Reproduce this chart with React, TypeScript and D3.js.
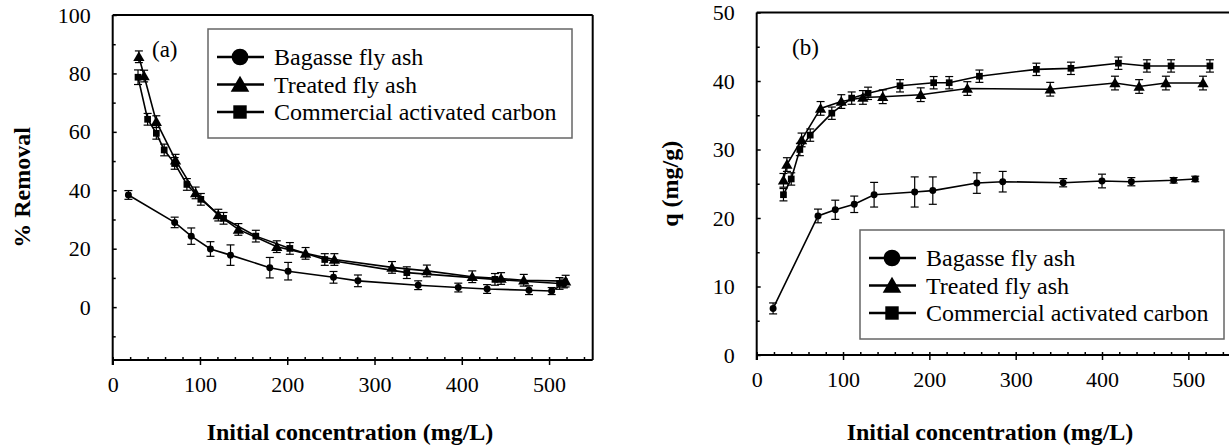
import React, { useEffect, useRef } from "react";
import * as d3 from "d3";

const W = 1229;
const H = 447;

// (a) % Removal vs initial concentration
const bagasseAx = [18, 71, 90, 112, 135, 180, 201, 253, 281, 350, 396, 429, 477, 503, 517];
const bagasseAy = [38.4, 29, 24.3, 19.9, 17.8, 13.5, 12.3, 10.2, 9.0, 7.5, 6.7, 6.2, 5.8, 5.5, 8.1];
const bagasseAe = [1.5, 1.8, 2.8, 2.5, 3.5, 3.5, 3, 2, 2, 1.5, 1.5, 1.5, 1.5, 1.2, 1.5];

const treatedAx = [30, 36, 50, 72, 95, 121, 144, 188, 221, 254, 320, 360, 412, 445, 471, 519];
const treatedAy = [85.7, 79.1, 63.5, 50.3, 39.1, 31.5, 26.6, 20.7, 18.4, 16.3, 13.6, 12.4, 10.4, 9.8, 9.2, 8.9];
const treatedAe = [2, 2, 2, 2, 2, 2, 2, 2, 2, 2, 2, 2, 2, 2, 2, 2];

const carbonAx = [29, 40, 50, 59, 71, 85, 101, 127, 164, 203, 243, 337, 438, 512];
const carbonAy = [78.7, 64.3, 59.5, 53.8, 49.2, 42, 36.9, 30.4, 24.3, 20.1, 16.3, 11.8, 9.5, 8.1];
const carbonAe = [2.5, 2, 2, 2, 2, 2, 2, 2, 2, 2, 2, 2, 2, 2];

// (b) q (mg/g) vs initial concentration
const bagasseBx = [19, 71, 91, 113, 136, 183, 204, 255, 285, 355, 400, 434, 483, 508];
const bagasseBy = [6.8, 20.3, 21.2, 22.0, 23.4, 23.8, 24.0, 25.1, 25.3, 25.15, 25.4, 25.3, 25.5, 25.7];
const bagasseBe = [0.8, 1.0, 1.4, 1.2, 1.8, 2.2, 2.0, 1.5, 1.5, 0.6, 1.0, 0.6, 0.4, 0.4];

const treatedBx = [31, 35, 52, 74, 98, 123, 146, 190, 244, 340, 415, 443, 474, 517];
const treatedBy = [25.5, 27.8, 31.4, 36.0, 37.0, 37.6, 37.7, 38.0, 38.9, 38.8, 39.7, 39.2, 39.7, 39.7];
const treatedBe = [1, 1, 1, 1, 1, 1, 1, 1, 1, 1, 1, 1, 1, 1];

const carbonBx = [31, 40, 50, 62, 87, 110, 129, 166, 205, 223, 258, 324, 364, 419, 452, 480, 525];
const carbonBy = [23.4, 25.7, 30.0, 32.1, 35.3, 37.5, 38.2, 39.3, 39.75, 39.75, 40.7, 41.7, 41.85, 42.6, 42.2, 42.2, 42.2];
const carbonBe = [0.9, 0.9, 0.9, 0.9, 0.9, 0.9, 0.9, 0.9, 0.9, 0.9, 0.9, 0.9, 0.9, 0.9, 0.9, 0.9, 0.9];

const seriesNames = ["Bagasse fly ash", "Treated fly ash", "Commercial activated carbon"];
const xTicks = [0, 100, 200, 300, 400, 500];

const FONT = "'Liberation Serif', 'Times New Roman', serif";

const symbols = [d3.symbolCircle, d3.symbolTriangle, d3.symbolSquare];
const plotSizes = [38, 55, 45];
const legendSizes = [220, 150, 180];

const zip = (xs, ys, es) => xs.map((v, i) => ({ x: v, y: ys[i], e: es[i] }));

const panelA = {
  x0: 112.7, x1: 592.7, y0: 15, y1: 360,
  yDomain: [-18.1, 100], yMajor: [0, 20, 40, 60, 80, 100], yMinor: [-10, 10, 30, 50, 70, 90],
  series: [zip(bagasseAx, bagasseAy, bagasseAe), zip(treatedAx, treatedAy, treatedAe), zip(carbonAx, carbonAy, carbonAe)],
  legend: { x: 208, y: 29, w: 364, h: 109 },
  tag: "(a)", tagX: 152, tagY: 57,
  yLabel: "% Removal", yLabelX: 30,
  xLabelX: 350,
  frameRight: true,
};

const panelB = {
  x0: 756.7, x1: 1231.5, y0: 12.5, y1: 355,
  yDomain: [0, 50], yMajor: [0, 10, 20, 30, 40, 50], yMinor: [5, 15, 25, 35, 45],
  series: [zip(bagasseBx, bagasseBy, bagasseBe), zip(treatedBx, treatedBy, treatedBe), zip(carbonBx, carbonBy, carbonBe)],
  legend: { x: 860, y: 230, w: 364, h: 109 },
  tag: "(b)", tagX: 792, tagY: 55,
  yLabel: "q (mg/g)", yLabelX: 678,
  xLabelX: 990,
  frameRight: false,
};

const Panel = ({ cfg }) => {
  const ref = useRef(null);
  const x = d3.scaleLinear().domain([0, 550]).range([cfg.x0, cfg.x1]);
  const y = d3.scaleLinear().domain(cfg.yDomain).range([cfg.y1, cfg.y0]);
  const line = d3.line().x((d) => x(d.x)).y((d) => y(d.y));

  useEffect(() => {
    const g = d3.select(ref.current);
    const style = (s) => {
      s.select(".domain").remove();
      s.selectAll("line").attr("stroke", "#000").attr("stroke-width", 1.5);
      s.selectAll("text").attr("font-family", FONT).attr("font-size", 22).attr("fill", "#000");
    };
    g.select(".x-major")
      .attr("transform", `translate(0,${cfg.y1})`)
      .call(d3.axisBottom(x).tickValues(xTicks).tickSize(5).tickPadding(11).tickFormat(d3.format("d")))
      .call(style);
    g.select(".x-minor")
      .attr("transform", `translate(0,${cfg.y1})`)
      .call(d3.axisBottom(x).tickValues(d3.range(0, 551, 20)).tickSize(-3).tickFormat(() => ""))
      .call(style);
    g.select(".y-major")
      .attr("transform", `translate(${cfg.x0},0)`)
      .call(d3.axisLeft(y).tickValues(cfg.yMajor).tickSize(-4).tickPadding(22).tickFormat(d3.format("d")))
      .call(style);
    g.select(".y-minor")
      .attr("transform", `translate(${cfg.x0},0)`)
      .call(d3.axisLeft(y).tickValues(cfg.yMinor).tickSize(-3).tickFormat(() => ""))
      .call(style);
  }, [cfg]);

  const L = cfg.legend;

  return (
    <g ref={ref}>
      <g className="x-minor" />
      <g className="x-major" />
      <g className="y-minor" />
      <g className="y-major" />
      {/* frame */}
      <line x1={cfg.x0} x2={cfg.x0} y1={cfg.y0} y2={cfg.y1 + 5} stroke="#000" strokeWidth={2} />
      <line x1={cfg.x0} x2={cfg.x1} y1={cfg.y1} y2={cfg.y1} stroke="#000" strokeWidth={2} />
      <line x1={cfg.x0} x2={cfg.x1} y1={cfg.y0} y2={cfg.y0} stroke="#000" strokeWidth={2} />
      {cfg.frameRight && (
        <line x1={cfg.x1} x2={cfg.x1} y1={cfg.y0} y2={cfg.y1} stroke="#000" strokeWidth={2} />
      )}

      {/* series */}
      {cfg.series.map((pts, si) => (
        <g key={si}>
          <path d={line(pts)} fill="none" stroke="#000" strokeWidth={1.6} />
          {pts.map((p, i) => {
            const px = x(p.x);
            const yt = y(p.y + p.e);
            const yb = y(p.y - p.e);
            return (
              <g key={i}>
                <line x1={px} x2={px} y1={yt} y2={yb} stroke="#000" strokeWidth={1.2} />
                <line x1={px - 4} x2={px + 4} y1={yt} y2={yt} stroke="#000" strokeWidth={1.2} />
                <line x1={px - 4} x2={px + 4} y1={yb} y2={yb} stroke="#000" strokeWidth={1.2} />
                <path
                  d={d3.symbol(symbols[si], plotSizes[si])()}
                  transform={`translate(${px},${y(p.y) + (si === 1 ? 1 : 0)})`}
                  fill="#000"
                />
              </g>
            );
          })}
        </g>
      ))}

      {/* tag */}
      <text x={cfg.tagX} y={cfg.tagY} fontFamily={FONT} fontSize={23}>
        {cfg.tag}
      </text>

      {/* legend */}
      <rect x={L.x} y={L.y} width={L.w} height={L.h} fill="#fff" stroke="#666" strokeWidth={1.5} />
      {seriesNames.map((name, i) => {
        const cy = L.y + 28 + i * 27.5;
        return (
          <g key={name}>
            <line x1={L.x + 9} x2={L.x + 56} y1={cy} y2={cy} stroke="#000" strokeWidth={2.5} />
            <path
              d={d3.symbol(symbols[i], legendSizes[i])()}
              transform={`translate(${L.x + 32},${cy + (i === 1 ? 2 : 0)})`}
              fill="#000"
            />
            <text x={L.x + 66} y={cy + 8} fontFamily={FONT} fontSize={24}>
              {name}
            </text>
          </g>
        );
      })}

      {/* axis titles */}
      <text
        transform={`translate(${cfg.yLabelX},${(cfg.y0 + cfg.y1) / 2}) rotate(-90)`}
        textAnchor="middle"
        fontFamily={FONT}
        fontWeight="bold"
        fontSize={24}
      >
        {cfg.yLabel}
      </text>
      <text
        x={cfg.xLabelX}
        y={440}
        textAnchor="middle"
        fontFamily={FONT}
        fontWeight="bold"
        fontSize={24}
      >
        Initial concentration (mg/L)
      </text>
    </g>
  );
};

export default function App() {
  return (
    <svg
      width={W}
      height={H}
      style={{ position: "absolute", left: 0, top: 0, background: "#fff" }}
    >
      <rect width={W} height={H} fill="#fff" />
      <Panel cfg={panelA} />
      <Panel cfg={panelB} />
    </svg>
  );
}
